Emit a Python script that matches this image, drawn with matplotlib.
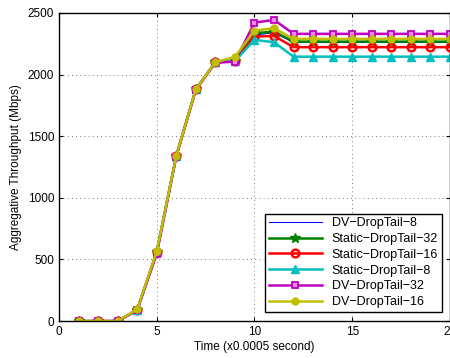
import matplotlib.pyplot as plt
import numpy as np

plt.rcParams['font.family'] = ['Liberation Sans', 'DejaVu Sans']

# Datos
t = np.arange(1, 21)
inicio = [0, 0, 0, 90, 560, 1340, 1880, 2100, 2110]

dv_8 = inicio + [2320, 2340] + [2260] * 9
static_32 = inicio + [2335, 2348] + [2267] * 9
static_16 = inicio + [2308, 2313] + [2222] * 9
static_8 = inicio + [2281, 2262] + [2145] * 9
dv_32 = [0, 0, 0, 90, 545, 1335, 1875, 2095, 2105] + [2421, 2443] + [2330] * 9
dv_16 = [0, 0, 0, 95, 565, 1340, 1880, 2100, 2143] + [2357, 2375] + [2289] * 9

etiquetas = ['DV\u2212DropTail\u22128', 'Static\u2212DropTail\u221232', 'Static\u2212DropTail\u221216',
             'Static\u2212DropTail\u22128', 'DV\u2212DropTail\u221232', 'DV\u2212DropTail\u221216']

fig = plt.figure(figsize=(4.5, 3.58), dpi=100)
ax = fig.add_axes([0.131, 0.103, 0.869, 0.861])

ax.plot(t, dv_8, color='b', lw=0.8, label=etiquetas[0])
ax.plot(t, static_32, color=(0, 0.5, 0), lw=1.8, marker='*', ms=7, label=etiquetas[1])
ax.plot(t, static_16, color='r', lw=1.8, marker='o', ms=5.5, mfc='none', mew=1.8, label=etiquetas[2])
ax.plot(t, static_8, color=(0, 0.75, 0.75), lw=1.8, marker='^', ms=5.5, label=etiquetas[3])
ax.plot(t, dv_32, color=(0.75, 0, 0.75), lw=1.8, marker='s', ms=5, mfc=(0.9, 0.55, 0.9), mew=1.3, label=etiquetas[4])
ax.plot(t, dv_16, color=(0.75, 0.75, 0), lw=1.8, marker='o', ms=5, label=etiquetas[5])

ax.set_xlim(0, 20)
ax.set_ylim(0, 2500)
ax.set_xticks([0, 5, 10, 15, 20])
ax.set_yticks([0, 500, 1000, 1500, 2000, 2500])
ax.tick_params(direction='in', labelsize=8.5, top=True, right=True, length=3)
ax.grid(True, linestyle=(0, (1, 4)), color='k', lw=0.6, alpha=0.7)
for s in ax.spines.values():
    s.set_linewidth(1.0)

ax.set_xlabel('Time (x0.0005 second)', fontsize=8.5, labelpad=2)
ax.set_ylabel('Aggregative Throughput (Mbps)', fontsize=8.5)

ax.legend(loc='lower right', fontsize=9, fancybox=False, edgecolor='k',
          framealpha=1, handlelength=4.2, borderpad=0.3, labelspacing=0.3,
          bbox_to_anchor=(0.995, 0.01))

fig.savefig('out.png', dpi=100)
